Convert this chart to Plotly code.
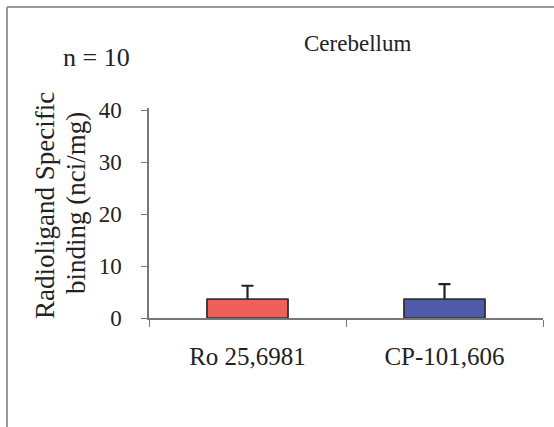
import plotly.graph_objects as go

# Radioligand specific binding in cerebellum (n = 10)
compounds = ["Ro 25,6981", "CP-101,606"]
binding = [3.6, 3.6]
sem = [2.6, 2.9]
bar_colors = ["#f0605a", "#4e5bab"]
y_ticks = [0, 10, 20, 30, 40]

serif = "Liberation Serif"
ink = "#222222"
bar_outline = dict(color="#333333", width=1.6)

fig = go.Figure()
# Bars carrying the SEM whiskers; the lower half of each whisker is
# hidden by the plain copy of the bars drawn over them.
fig.add_bar(
    x=compounds, y=binding, width=0.41,
    marker=dict(color=bar_colors, line=bar_outline),
    error_y=dict(type="data", array=sem, color="#222222", thickness=2.2, width=6),
)
fig.add_bar(
    x=compounds, y=binding, width=0.41,
    marker=dict(color=bar_colors, line=bar_outline),
)

W, H = 554, 427
L, R, T, B = 149, 11, 108, 109

def px(x):
    return (x - L) / (W - L - R)

def py(y):
    return (H - B - y) / (H - T - B)

def label(text, x, y, size, angle=0):
    return dict(text=text, x=px(x), y=py(y), xref="paper", yref="paper",
                xanchor="center", yanchor="middle", textangle=angle,
                showarrow=False, font=dict(size=size, family=serif, color=ink))

fig.update_layout(
    width=W, height=H,
    margin=dict(l=L, r=R, t=T, b=B),
    paper_bgcolor="white", plot_bgcolor="white",
    showlegend=False,
    barmode="overlay",
    font=dict(family=serif, color=ink),
    xaxis=dict(
        showline=True, linecolor="#777777", linewidth=1.5,
        ticks="outside", tickson="boundaries", ticklen=7, tickcolor="#777777",
        tickfont=dict(size=25, family=serif, color=ink),
        ticklabelstandoff=15,
        showgrid=False, zeroline=False,
    ),
    yaxis=dict(
        range=[0, 40.4],
        tickvals=y_ticks,
        showline=True, linecolor="#777777", linewidth=1.5,
        ticks="outside", ticklen=6, tickcolor="#777777",
        tickfont=dict(size=23, family=serif, color=ink),
        ticklabelstandoff=15,
        showgrid=False, zeroline=False,
    ),
    annotations=[
        label("Cerebellum", 357, 43, 23),
        label("n = 10", 96, 58, 26),
        label("Radioligand Specific", 45, 206, 27, -90),
        label("binding (nci/mg)", 76, 203, 27, -90),
    ],
    shapes=[
        dict(type="line", xref="paper", yref="paper", x0=px(7), x1=px(554),
             y0=py(7), y1=py(7), line=dict(color="#9a9a9a", width=2)),
        dict(type="line", xref="paper", yref="paper", x0=px(7), x1=px(7),
             y0=py(7), y1=py(427), line=dict(color="#9a9a9a", width=2)),
    ],
)

fig.write_html("out.html")
